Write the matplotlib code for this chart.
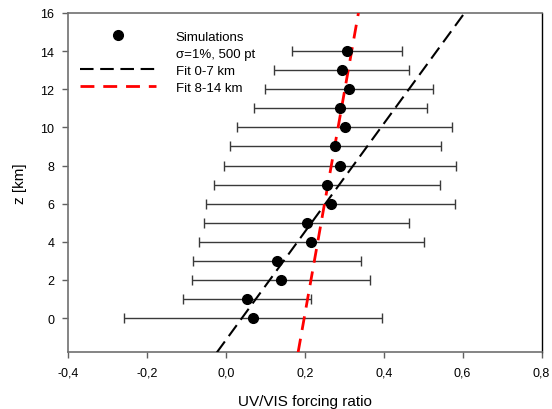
import matplotlib
matplotlib.use("Agg")
import matplotlib.pyplot as plt
from matplotlib.lines import Line2D
import numpy as np

plt.rcParams["font.family"] = ["Liberation Sans", "DejaVu Sans"]

# altitude levels (km) and simulated UV/VIS forcing ratio
z_km = [0, 1, 2, 3, 4, 5, 6, 7, 8, 9, 10, 11, 12, 13, 14]
ratio = [0.069, 0.052, 0.138, 0.128, 0.215, 0.204, 0.265, 0.255,
         0.289, 0.276, 0.302, 0.289, 0.312, 0.293, 0.306]
err_lo = [-0.258, -0.110, -0.086, -0.083, -0.069, -0.056, -0.051, -0.031,
          -0.005, 0.009, 0.028, 0.070, 0.099, 0.122, 0.166]
err_hi = [0.396, 0.215, 0.364, 0.341, 0.501, 0.465, 0.581, 0.543,
          0.582, 0.544, 0.573, 0.509, 0.524, 0.464, 0.446]

# linear fits: ratio = intercept + slope * z
fit_low = (0.040, 0.0353)   # 0-7 km
fit_high = (0.198, 0.0086)  # 8-14 km

x_ticks = [-0.4, -0.2, 0.0, 0.2, 0.4, 0.6, 0.8]
x_labels = ["-0,4", "-0,2", "0,0", "0,2", "0,4", "0,6", "0,8"]
y_ticks = [0, 2, 4, 6, 8, 10, 12, 14, 16]

fig = plt.figure(figsize=(5.52, 4.10), dpi=100)
ax = fig.add_axes([0.124, 0.138, 0.857, 0.828])

r = np.array(ratio)
xerr = [r - np.array(err_lo), np.array(err_hi) - r]
ax.errorbar(ratio, z_km, xerr=xerr, fmt="none", ecolor="#3a3a3a",
            elinewidth=1.0, capsize=3.5, capthick=1.0, zorder=2)
ax.plot(ratio, z_km, "o", color="black", markersize=7, zorder=4)

zz = np.array([-1.8, 16.0])
ax.plot(fit_low[0] + fit_low[1] * zz, zz, color="black", lw=1.5,
        dashes=(6.5, 3.2), zorder=3)
ax.plot(fit_high[0] + fit_high[1] * zz, zz, color="red", lw=2.0,
        dashes=(5.0, 3.2), zorder=3)

ax.set_xlim(-0.4, 0.8)
ax.set_ylim(-1.8, 16)
ax.set_xticks(x_ticks)
ax.set_xticklabels(x_labels)
ax.set_yticks(y_ticks)
ax.tick_params(direction="out", length=4, width=1, color="#606060",
               labelsize=9, pad=6)
ax.set_xlabel("UV/VIS forcing ratio", fontsize=11, labelpad=11)
ax.set_ylabel("z [km]", fontsize=11, labelpad=10)

for side in ["left", "bottom", "top"]:
    ax.spines[side].set_color("#707070")
    ax.spines[side].set_linewidth(1.2)
ax.spines["right"].set_color("black")
ax.spines["right"].set_linewidth(1.0)

handles = [
    Line2D([], [], ls="none", marker="o", color="black", markersize=7),
    Line2D([], [], ls="none"),
    Line2D([], [], color="black", lw=1.5, dashes=(6.5, 3.2)),
    Line2D([], [], color="red", lw=2.0, dashes=(5.0, 3.2)),
]
labels = ["Simulations", "σ=1%, 500 pt", "Fit 0-7 km", "Fit 8-14 km"]
ax.legend(handles, labels, loc="upper left", bbox_to_anchor=(0.004, 0.975),
          frameon=False, fontsize=9.5, handlelength=5.8, handletextpad=1.5,
          labelspacing=0.36, borderaxespad=0.3)

fig.savefig("out.png", dpi=100)
plt.close(fig)
